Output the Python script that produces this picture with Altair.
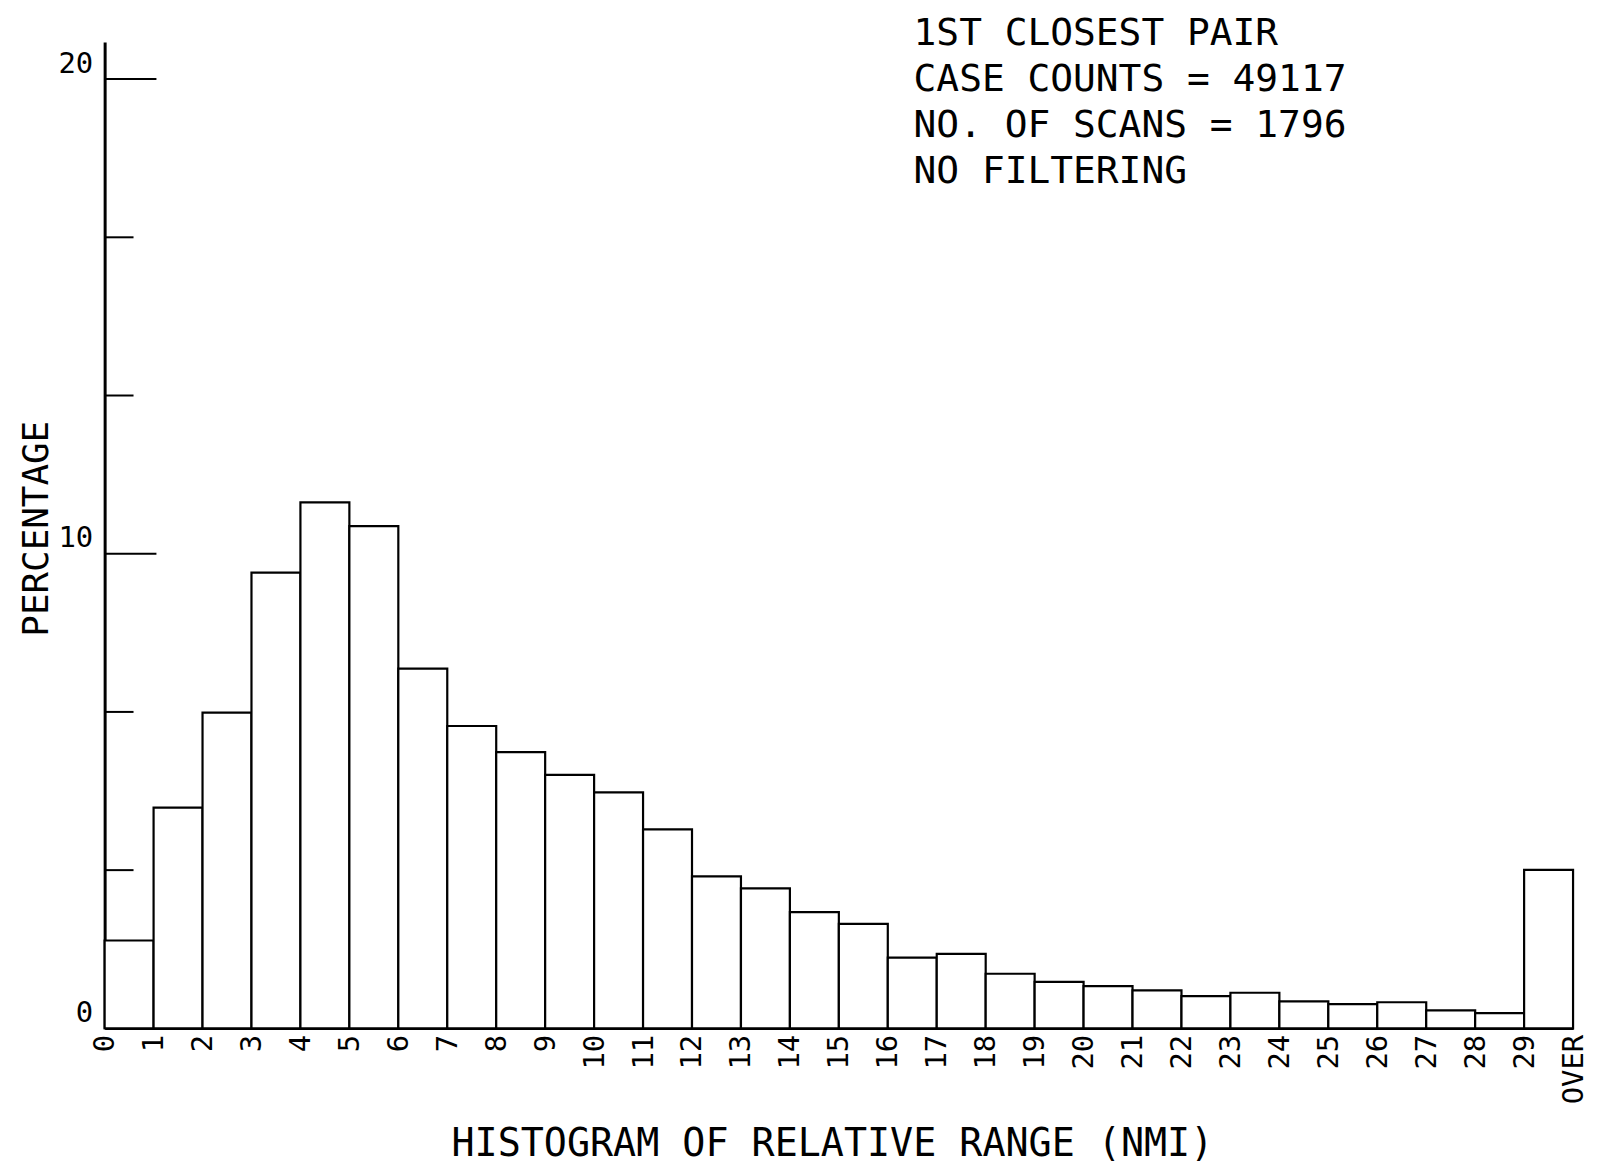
import altair as alt
import pandas as pd

# ---- data ----
bin_start = list(range(30))
percent = [1.85, 4.65, 6.65, 9.60, 11.08, 10.58, 7.58, 6.37, 5.82, 5.34,
           4.97, 4.19, 3.20, 2.95, 2.45, 2.20, 1.49, 1.57, 1.15, 0.98,
           0.89, 0.80, 0.68, 0.75, 0.57, 0.51, 0.55, 0.38, 0.32, 3.34]
x_tick_labels = [str(i) for i in range(30)] + ["OVER"]
y_label_values = [0, 10, 20]
y_major_ticks = [10, 20]
y_minor_ticks = [10 / 3, 20 / 3, 40 / 3, 50 / 3]
info_lines = ["1ST CLOSEST PAIR", "CASE COUNTS = 49117",
              "NO. OF SCANS = 1796", "NO FILTERING"]
x_title = "HISTOGRAM OF RELATIVE RANGE (NMI)"
y_title = "PERCENTAGE"

FONT = "DejaVu Sans Mono"

df = pd.DataFrame({"lo": bin_start,
                   "hi": [b + 1 for b in bin_start],
                   "pct": percent,
                   "base": [0] * len(bin_start)})

xscale = alt.Scale(domain=[0, 30], nice=False, zero=False)
yscale = alt.Scale(domain=[0, 20.78], nice=False, zero=True)

label_expr = "[" + ",".join("'%s'" % s for s in x_tick_labels) + "][datum.value]"

x_axis = alt.Axis(
    values=list(range(len(x_tick_labels))),
    labelExpr=label_expr,
    labelAngle=270, labelAlign="right", labelBaseline="middle",
    labelPadding=6, labelFont=FONT, labelFontSize=29, labelColor="black",
    labelFlush=False, labelOverlap=False,
    ticks=False, tickSize=0, grid=False,
    domainColor="black", domainWidth=2.5,
    title=x_title, titleFont=FONT, titleFontSize=38.5, titleFontWeight="normal",
    titleColor="black", titleAlign="center", titleBaseline="alphabetic",
    titleX=730, titleY=128,
)

y_axis = alt.Axis(
    values=y_label_values,
    labelAlign="right", labelBaseline="alphabetic", labelOffset=-7,
    labelPadding=12, labelFont=FONT, labelFontSize=29, labelColor="black",
    ticks=False, tickSize=0, grid=False,
    domainColor="black", domainWidth=3,
    title=y_title, titleFont=FONT, titleFontSize=36, titleFontWeight="normal",
    titleColor="black", titleAngle=270, titleAlign="center",
    titleBaseline="alphabetic", titleX=-57, titleY=488,
)

bars = alt.Chart(df).mark_bar(fill="white", stroke="black", strokeWidth=2.2).encode(
    x=alt.X("lo:Q", scale=xscale, axis=x_axis),
    x2="hi:Q",
    y=alt.Y("pct:Q", scale=yscale, axis=y_axis),
    y2="base:Q",
)

major = alt.Chart(pd.DataFrame({"v": y_major_ticks})).mark_rule(
    color="black", strokeWidth=2).encode(
    y=alt.Y("v:Q", scale=yscale, axis=y_axis),
    x=alt.value(0), x2=alt.value(52),
)

minor = alt.Chart(pd.DataFrame({"v": y_minor_ticks})).mark_rule(
    color="black", strokeWidth=2).encode(
    y=alt.Y("v:Q", scale=yscale, axis=y_axis),
    x=alt.value(0), x2=alt.value(29),
)

info = alt.Chart(pd.DataFrame({"t": ["\n".join(info_lines)]})).mark_text(
    align="left", baseline="alphabetic", font=FONT, fontSize=38,
    lineHeight=46, lineBreak="\n", color="black").encode(
    x=alt.value(812), y=alt.value(3), text="t:N",
)

chart = alt.layer(bars, major, minor, info).properties(
    width=1474, height=990,
    autosize=alt.AutoSizeParams(type="none"),
    padding={"left": 97, "top": 32, "right": 16, "bottom": 140},
    background="white",
).configure_view(strokeWidth=0)

chart.save("out.html", embed_options={"renderer": "svg", "actions": False})
